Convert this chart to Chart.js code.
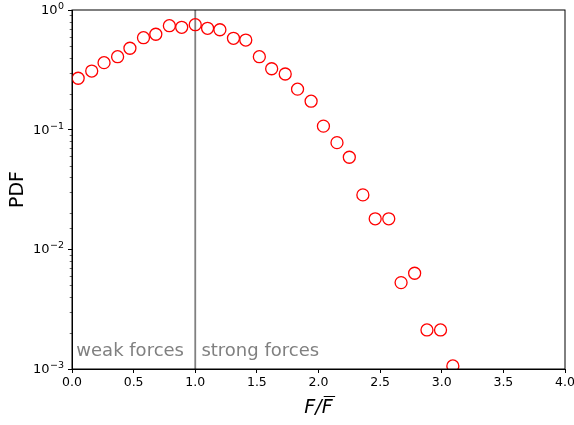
<!DOCTYPE html>
<html>
<head>
  <meta charset="utf-8" />
  <title>Force PDF</title>
  <script src="https://cdn.jsdelivr.net/npm/chart.js"></script>
  <style>
    html, body { margin: 0; padding: 0; background: #fff; }
    #wrap { width: 574px; height: 425px; }
  </style>
</head>
<body>
<div id="wrap"><canvas id="pdfChart" width="574" height="425"></canvas></div>
<script>
// F / mean(F), bin centres
const forceRatio = [0.05, 0.16, 0.26, 0.37, 0.47, 0.58, 0.68, 0.79, 0.89, 1.0,
  1.1, 1.2, 1.31, 1.41, 1.52, 1.62, 1.73, 1.83, 1.94, 2.04,
  2.15, 2.25, 2.36, 2.46, 2.57, 2.67, 2.78, 2.88, 2.99, 3.09];
const pdfValues = [0.269, 0.309, 0.363, 0.407, 0.479, 0.587, 0.627, 0.739, 0.717, 0.754,
  0.703, 0.684, 0.580, 0.561, 0.407, 0.323, 0.292, 0.218, 0.173, 0.107,
  0.0779, 0.0588, 0.0285, 0.0180, 0.0180, 0.00527, 0.00631, 0.00212, 0.00212, 0.00106];
const xTicks = [0, 0.5, 1, 1.5, 2, 2.5, 3, 3.5, 4];
const yDecades = [1, 0.1, 0.01, 0.001];
const yExponents = ['0', '\u22121', '\u22122', '\u22123'];
const splitAt = 1.0;
const regionLabels = [
  { text: 'weak forces', x: 0.035, y: 0.0014 },
  { text: 'strong forces', x: 1.05, y: 0.0014 }
];

const font = 'DejaVu Sans';
const isDecade = v => Math.abs(Math.log10(v) - Math.round(Math.log10(v))) < 1e-6;

const extras = {
  id: 'extras',
  afterDatasetsDraw(chart) {
    const { ctx, chartArea: a, scales: { x, y } } = chart;
    ctx.save();
    // region labels
    ctx.fillStyle = '#808080';
    ctx.font = '18px "' + font + '"';
    ctx.textBaseline = 'middle';
    ctx.textAlign = 'left';
    regionLabels.forEach(l => ctx.fillText(l.text, x.getPixelForValue(l.x), y.getPixelForValue(l.y)));

    // minor y ticks
    ctx.strokeStyle = '#000';
    ctx.lineWidth = 0.6;
    y.ticks.forEach(t => {
      if (isDecade(t.value)) return;
      const py = Math.round(y.getPixelForValue(t.value)) + 0.5;
      ctx.beginPath();
      ctx.moveTo(a.left - 2.3, py);
      ctx.lineTo(a.left, py);
      ctx.stroke();
    });

    // y decade labels: 10 with raised exponent
    ctx.fillStyle = '#000';
    ctx.textAlign = 'right';
    yDecades.forEach((d, i) => {
      const py = y.getPixelForValue(d);
      const right = a.left - 8;
      ctx.font = '9.5px "' + font + '"';
      ctx.textBaseline = 'alphabetic';
      const ew = ctx.measureText(yExponents[i]).width;
      ctx.fillText(yExponents[i], right, py - 1);
      ctx.font = '13px "' + font + '"';
      ctx.textBaseline = 'middle';
      ctx.fillText('10', right - ew - 0.5, py + 0.5);
    });

    // x title F / F-bar
    ctx.font = 'italic 19px "' + font + '"';
    ctx.textBaseline = 'alphabetic';
    ctx.textAlign = 'left';
    const w1 = ctx.measureText('F/').width;
    const w2 = ctx.measureText('F').width;
    const cx = (a.left + a.right) / 2;
    const x0 = cx - (w1 + w2) / 2;
    ctx.fillText('F/', x0, 413);
    ctx.fillText('F', x0 + w1, 413);
    ctx.lineWidth = 1;
    ctx.beginPath();
    ctx.moveTo(x0 + w1 + 2, 396.5);
    ctx.lineTo(x0 + w1 + w2 + 2.5, 396.5);
    ctx.stroke();

    // frame
    ctx.strokeRect(a.left, a.top, a.right - a.left, a.bottom - a.top);
    ctx.restore();
  }
};

new Chart(document.getElementById('pdfChart'), {
  type: 'scatter',
  data: {
    datasets: [
      {
        data: forceRatio.map((v, i) => ({ x: v, y: pdfValues[i] })),
        borderColor: '#ff0000',
        backgroundColor: 'rgba(0,0,0,0)',
        pointRadius: 6,
        pointHoverRadius: 6,
        pointBorderWidth: 1.3,
        clip: 0,
        order: 1
      },
      {
        type: 'line',
        data: [{ x: splitAt, y: yDecades[3] }, { x: splitAt, y: yDecades[0] }],
        borderColor: '#808080',
        borderWidth: 1.8,
        pointRadius: 0,
        order: 2
      }
    ]
  },
  options: {
    responsive: false,
    animation: false,
    events: [],
    layout: { padding: { left: 0, right: 9, top: 10, bottom: 0 } },
    plugins: { legend: { display: false }, tooltip: { enabled: false } },
    scales: {
      x: {
        type: 'linear',
        min: 0,
        max: 4,
        afterBuildTicks: s => { s.ticks = xTicks.map(v => ({ value: v })); },
        afterFit: s => { s.height = 56; s.paddingLeft = 0; s.paddingRight = 0; },
        border: { color: '#000', width: 1 },
        grid: { drawOnChartArea: false, drawTicks: true, tickLength: 4, tickColor: '#000' },
        ticks: {
          color: '#000', padding: 2, maxRotation: 0,
          font: { family: font, size: 12.5 },
          callback: v => v.toFixed(1)
        },
        title: { display: false }
      },
      y: {
        type: 'logarithmic',
        min: 0.001,
        max: 1,
        afterFit: s => { s.width = 72; s.paddingTop = 0; s.paddingBottom = 0; },
        border: { color: '#000', width: 1 },
        grid: {
          drawOnChartArea: false, drawTicks: true, tickLength: 4,
          tickColor: c => isDecade(c.tick.value) ? '#000' : 'rgba(0,0,0,0)'
        },
        ticks: {
          autoSkip: false, color: '#000', padding: 2,
          font: { family: font, size: 12 },
          callback: () => ''
        },
        title: {
          display: true, text: 'PDF', color: '#000',
          font: { family: font, size: 19 },
          padding: { top: 7, bottom: 0 }
        }
      }
    }
  },
  plugins: [extras]
});
</script>
</body>
</html>
